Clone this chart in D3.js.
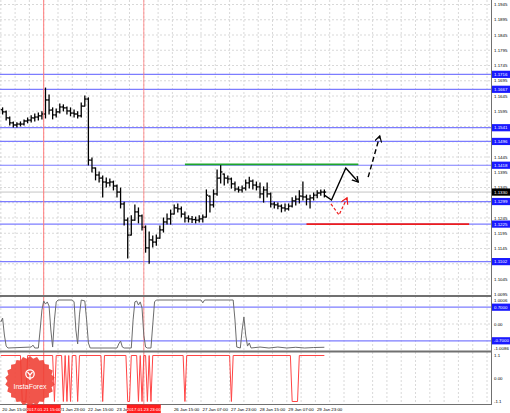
<!DOCTYPE html>
<html>
<head>
<meta charset="utf-8">
<script src="https://cdn.jsdelivr.net/npm/d3@7"></script>
<style>
html, body { margin: 0; padding: 0; background: #fff; }
svg { display: block; font-family: 'Liberation Sans', Arial, sans-serif; }
</style>
</head>
<body>
<div id="chart"></div>
<script>
/* global d3 */

// time axis, counted in trading hours from 20 Jan 15:00
// (labels under the two red date boxes are hidden in the picture)
const timeTickHours = [0, 32, 48, 64, 96, 112, 128, 144, 160, 176]
const timeTickLabels = ['20 Jan 15:00', '21 Jan 23:00', '22 Jan 15:00', '23 Jan 07:00',
    '26 Jan 15:00', '27 Jan 07:00', '27 Jan 23:00', '28 Jan 15:00', '29 Jan 07:00', '29 Jan 23:00']

const priceTicks = [1.1945, 1.1895, 1.1845, 1.1795, 1.1745, 1.1695, 1.1645, 1.1595, 1.1545, 1.1495,
    1.1445, 1.1395, 1.1345, 1.1295, 1.1245, 1.1195, 1.1145, 1.1095, 1.1045]

// 2-hour bars, bar k starts at hour 2k
const barHigh = [1.1606, 1.1596, 1.1576, 1.1560, 1.1557, 1.1560, 1.1566, 1.1573, 1.1580, 1.1586,
    1.1589, 1.1593, 1.1671, 1.1648, 1.1606, 1.1602, 1.1619, 1.1616, 1.1609, 1.1606,
    1.1599, 1.1593, 1.1622, 1.1645, 1.1639, 1.1442, 1.1409, 1.1396, 1.1383, 1.1376,
    1.1373, 1.1366, 1.1353, 1.1343, 1.1297, 1.1245, 1.1252, 1.1288, 1.1278, 1.1255,
    1.1219, 1.1199, 1.1186, 1.1189, 1.1219, 1.1245, 1.1258, 1.1271, 1.1288, 1.1291,
    1.1281, 1.1265, 1.1252, 1.1250, 1.1248, 1.1252, 1.1255, 1.1337, 1.1317, 1.1337,
    1.1402, 1.1419, 1.1389, 1.1383, 1.1376, 1.1363, 1.1347, 1.1350, 1.1370, 1.1379,
    1.1370, 1.1363, 1.1360, 1.1347, 1.1360, 1.1327, 1.1297, 1.1294, 1.1288, 1.1291,
    1.1291, 1.1311, 1.1317, 1.1334, 1.1363, 1.1320, 1.1320, 1.1327, 1.1334, 1.1337,
    1.1337]
const barLow = [1.1586, 1.1566, 1.1550, 1.1543, 1.1543, 1.1547, 1.1550, 1.1557, 1.1560, 1.1563,
    1.1566, 1.1570, 1.1573, 1.1586, 1.1570, 1.1576, 1.1589, 1.1596, 1.1586, 1.1580,
    1.1576, 1.1573, 1.1576, 1.1612, 1.1419, 1.1396, 1.1370, 1.1363, 1.1314, 1.1347,
    1.1350, 1.1337, 1.1314, 1.1278, 1.1222, 1.1114, 1.1189, 1.1238, 1.1229, 1.1206,
    1.1133, 1.1097, 1.1150, 1.1156, 1.1179, 1.1199, 1.1225, 1.1225, 1.1258, 1.1265,
    1.1248, 1.1232, 1.1232, 1.1230, 1.1229, 1.1232, 1.1232, 1.1248, 1.1265, 1.1281,
    1.1320, 1.1360, 1.1353, 1.1360, 1.1343, 1.1334, 1.1330, 1.1330, 1.1337, 1.1343,
    1.1340, 1.1337, 1.1311, 1.1297, 1.1314, 1.1281, 1.1278, 1.1275, 1.1265, 1.1268,
    1.1271, 1.1281, 1.1288, 1.1294, 1.1304, 1.1288, 1.1278, 1.1304, 1.1311, 1.1320,
    1.1314]
const barClose = [1.1593, 1.1573, 1.1557, 1.1550, 1.1553, 1.1553, 1.1563, 1.1566, 1.1573, 1.1576,
    1.1580, 1.1586, 1.1632, 1.1599, 1.1583, 1.1593, 1.1609, 1.1606, 1.1596, 1.1589,
    1.1586, 1.1580, 1.1612, 1.1635, 1.1435, 1.1409, 1.1386, 1.1376, 1.1363, 1.1360,
    1.1363, 1.1350, 1.1330, 1.1291, 1.1238, 1.1189, 1.1238, 1.1265, 1.1252, 1.1215,
    1.1147, 1.1173, 1.1166, 1.1179, 1.1206, 1.1232, 1.1242, 1.1258, 1.1278, 1.1275,
    1.1258, 1.1245, 1.1242, 1.1240, 1.1238, 1.1242, 1.1248, 1.1320, 1.1288, 1.1324,
    1.1376, 1.1396, 1.1376, 1.1373, 1.1357, 1.1340, 1.1337, 1.1343, 1.1360, 1.1366,
    1.1353, 1.1347, 1.1324, 1.1337, 1.1324, 1.1291, 1.1288, 1.1284, 1.1278, 1.1275,
    1.1284, 1.1301, 1.1307, 1.1317, 1.1314, 1.1307, 1.1311, 1.1320, 1.1327, 1.1330,
    1.1330]
const firstOpen = 1.1600
const currentPrice = 1.1330

// horizontal levels (full width)
const levelPrices = [1.1716, 1.1667, 1.1541, 1.1496, 1.1418, 1.1299, 1.1225, 1.1102]

// short levels: resistance (green) and support (red)
const segmentNames = ['resistance', 'support']
const segmentPrices = [1.1421, 1.1225]
const segmentFrom = [103, 171]
const segmentTo = [200, 262]

// vertical markers
const markerHours = [24, 80]
const markerLabels = ['2017.01.21 15:00', '2017.01.23 23:00']

// forecast paths
const forecastMainHours = [181, 185, 193, 200]
const forecastMainPrices = [1.1320, 1.1304, 1.1409, 1.1363]
const forecastNextHours = [205.5, 212]
const forecastNextPrices = [1.1379, 1.1514]
const forecastAltHours = [184.7, 189.2, 193.7]
const forecastAltPrices = [1.1291, 1.1255, 1.1311]

// oscillator 1
const osc1Hours = [0, 1, 2, 3, 4, 17, 18, 19, 21, 22, 23, 24, 25, 26, 27, 28, 29, 30, 31, 32,
    40, 41, 42, 43, 44, 45, 47, 48, 49, 50, 65, 66, 67, 68, 69, 73, 74, 75, 76, 77,
    78, 79, 80, 81, 82, 84, 85, 86, 87, 112, 113, 114, 130, 131, 132, 134, 135, 136, 137, 138,
    139, 140, 145, 150, 155, 160, 165, 170, 175, 181]
const osc1Values = [0.08, 0.25, -0.46, -0.92, -1.0, -0.96, -0.88, -1.0, -1.0, -0.25, 0.58, 0.96, 0.83, 0.92, 0.75, -0.25, -0.96, 0.17, 0.92, 1.0,
    1.0, 0.92, -0.25, -0.83, 0.38, 1.0, 0.96, 0.17, -0.79, -1.0, -1.0, -0.83, -0.71, -0.96, -1.0, -1.0, 0.17, 0.92, 0.96, 0.79,
    0.92, 0.67, -0.46, -0.96, -1.0, -1.0, -0.04, 0.92, 1.0, 1.0, 0.88, 1.0, 1.0, 0.17, -0.96, -1.0, -0.25, 0.29, -0.46, -0.92,
    -0.79, -1.0, -0.96, -1.0, -0.96, -1.0, -0.97, -1.0, -0.98, -0.97]
const osc1Levels = [0.7, -0.7]
const osc1TickValues = [1.0006, 0, -1.0086]
const osc1TickLabels = ['1.0006', '0.00', '-1.0086']
const osc1MaxLabel = '1.0095'

// oscillator 2 (signal)
const osc2Hours = [0, 11, 12, 14, 15, 29, 30, 31, 34, 35, 36, 37, 38, 39, 40, 42, 43, 44, 56, 57,
    58, 70, 71, 72, 73, 76, 77, 78, 79, 80, 81, 82, 83, 84, 85, 102, 103, 104, 128, 129,
    130, 162, 163, 166, 167, 181]
const osc2Values = [1.1, 1.1, -1.1, -1.1, 1.1, 1.1, -1.1, 1.1, 1.1, -1.1, 1.1, -1.1, 1.1, -1.1, 1.1, 1.1, -1.1, 1.1, 1.1, -1.1,
    1.1, 1.1, -1.1, -1.1, 1.1, 1.1, -1.1, 1.1, -1.1, 1.1, 1.1, -1.1, 1.1, -1.1, 1.1, 1.1, -1.1, 1.1, 1.1, -1.1,
    1.1, 1.1, -1.1, -1.1, 1.1, 1.1]
const osc2TickValues = [1.1, 0, -1.1]
const osc2TickLabels = ['1.1', '0.00', '-1.1']


let DrawChart = function (id) {
    this.id = id
    this.svgWidth = 510
    this.svgHeight = 413
    this.plotRight = 491
    this.mainBottom = 296
    this.osc1Top = 297
    this.osc1Bottom = 351.5
    this.osc2Top = 352.5
    this.osc2Bottom = 404

    this.svg = d3.select('#' + id).append('svg')
        .attr('width', this.svgWidth)
        .attr('height', this.svgHeight)

    this.x = d3.scaleLinear().domain([0, 274]).range([0.8, 490.6])
    this.y = d3.scaleLinear().domain([1.1045, 1.1945]).range([279, 4.5])
    this.yOsc1 = d3.scaleLinear().domain([-1, 1]).range([348, 300])
    this.yOsc2 = d3.scaleLinear().domain([-1.1, 1.1]).range([401.5, 355.5])

    this.colors = {
        grid: '#cfcfcf',
        level: '#7c7cff',
        levelBox: '#1a1aff',
        marker: '#ff7a7a',
        resistance: '#1fa52b',
        support: '#ee1c1c',
        bar: '#000',
        osc1: '#6c6c6c',
        osc2: '#ff4444',
        border: '#707070'
    }
    this.fontSize = 4.4
}

DrawChart.prototype.layout = function () {
    let svg = this.svg
    let x = this.x
    let y = this.y
    let c = this.colors

    let defs = svg.append('defs')
    defs.append('clipPath').attr('id', 'clipMain')
        .append('rect').attr('x', 0).attr('y', 0).attr('width', this.plotRight).attr('height', this.mainBottom)
    defs.append('clipPath').attr('id', 'clipOsc1')
        .append('rect').attr('x', 0).attr('y', this.osc1Top).attr('width', this.plotRight).attr('height', this.osc1Bottom - this.osc1Top)
    defs.append('clipPath').attr('id', 'clipOsc2')
        .append('rect').attr('x', 0).attr('y', this.osc2Top).attr('width', this.plotRight).attr('height', this.osc2Bottom - this.osc2Top)

    let addArrow = function (name, color) {
        defs.append('marker').attr('id', name)
            .attr('markerUnits', 'userSpaceOnUse')
            .attr('markerWidth', 8).attr('markerHeight', 8)
            .attr('refX', 6).attr('refY', 3.5)
            .attr('orient', 'auto')
            .append('path')
            .attr('d', 'M0,0 L6,3.5 L0,7')
            .attr('fill', 'none')
            .attr('stroke', color)
            .attr('stroke-width', 1.2)
    }
    addArrow('arrowBlack', '#000')
    addArrow('arrowRed', c.support)

    // grid
    let gridHours = d3.range(0, 275, 8)
    let grid = svg.append('g').attr('class', 'grid')
        .attr('stroke', c.grid).attr('stroke-dasharray', '2,2').attr('stroke-width', 0.8)
    grid.selectAll('line.v')
        .data(gridHours)
        .enter()
        .append('line')
        .attr('class', 'v')
        .attr('x1', (h) => x(h)).attr('x2', (h) => x(h))
        .attr('y1', 0).attr('y2', this.osc2Bottom)
    grid.selectAll('line.h')
        .data(priceTicks)
        .enter()
        .append('line')
        .attr('class', 'h')
        .attr('x1', 0).attr('x2', this.plotRight)
        .attr('y1', (p) => y(p)).attr('y2', (p) => y(p))
    grid.selectAll('line.o1')
        .data([0])
        .enter()
        .append('line')
        .attr('x1', 0).attr('x2', this.plotRight)
        .attr('y1', (v) => this.yOsc1(v)).attr('y2', (v) => this.yOsc1(v))

    // main panel
    let main = svg.append('g').attr('class', 'main').attr('clip-path', 'url(#clipMain)')

    main.append('line')
        .attr('x1', 0).attr('x2', this.plotRight)
        .attr('y1', y(currentPrice)).attr('y2', y(currentPrice))
        .attr('stroke', '#c4c4c4').attr('stroke-width', 1)

    main.append('g').attr('class', 'levels')
        .selectAll('line')
        .data(levelPrices)
        .enter()
        .append('line')
        .attr('x1', 0).attr('x2', this.plotRight)
        .attr('y1', (p) => y(p)).attr('y2', (p) => y(p))
        .attr('stroke', c.level).attr('stroke-width', 1.2)

    // vertical markers through all panels
    svg.append('g').attr('class', 'markers')
        .selectAll('line')
        .data(markerHours)
        .enter()
        .append('line')
        .attr('x1', (h) => x(h)).attr('x2', (h) => x(h))
        .attr('y1', 0).attr('y2', this.osc2Bottom)
        .attr('stroke', c.marker)
        .attr('stroke-opacity', (h, i) => i === 0 ? 1 : 0.8)
        .attr('stroke-width', 1)

    // OHLC bars
    let bars = barHigh.map((high, k) => {
        let open = k === 0 ? firstOpen : barClose[k - 1]
        open = Math.min(high, Math.max(barLow[k], open))
        return { hour: 2 * k + 1, high: high, low: barLow[k], open: open, close: barClose[k] }
    })
    let barG = main.append('g').attr('class', 'bars').attr('stroke', c.bar).attr('stroke-width', 1.3)
    let bar = barG.selectAll('g')
        .data(bars)
        .enter()
        .append('g')
    bar.append('line')
        .attr('x1', (d) => x(d.hour)).attr('x2', (d) => x(d.hour))
        .attr('y1', (d) => y(d.high) - 0.5).attr('y2', (d) => y(d.low) + 0.5)
    bar.append('line')
        .attr('x1', (d) => x(d.hour - 1)).attr('x2', (d) => x(d.hour))
        .attr('y1', (d) => y(d.open)).attr('y2', (d) => y(d.open))
    bar.append('line')
        .attr('x1', (d) => x(d.hour)).attr('x2', (d) => x(d.hour + 1))
        .attr('y1', (d) => y(d.close)).attr('y2', (d) => y(d.close))

    // support / resistance segments
    main.append('g').attr('class', 'segments')
        .selectAll('line')
        .data(segmentNames)
        .enter()
        .append('line')
        .attr('x1', (n, i) => x(segmentFrom[i])).attr('x2', (n, i) => x(segmentTo[i]))
        .attr('y1', (n, i) => y(segmentPrices[i])).attr('y2', (n, i) => y(segmentPrices[i]))
        .attr('stroke', (n) => c[n]).attr('stroke-width', 1.8)

    // forecasts
    let pathOf = (hours, prices) => d3.line()(hours.map((h, i) => [x(h), y(prices[i])]))
    main.append('path')
        .attr('d', pathOf(forecastMainHours, forecastMainPrices))
        .attr('fill', 'none').attr('stroke', '#000').attr('stroke-width', 1.4)
        .attr('marker-end', 'url(#arrowBlack)')
    main.append('path')
        .attr('d', pathOf(forecastNextHours, forecastNextPrices))
        .attr('fill', 'none').attr('stroke', '#000').attr('stroke-width', 1.4)
        .attr('stroke-dasharray', '5,3')
        .attr('marker-end', 'url(#arrowBlack)')
    main.append('path')
        .attr('d', pathOf(forecastAltHours, forecastAltPrices))
        .attr('fill', 'none').attr('stroke', c.support).attr('stroke-width', 1.2)
        .attr('stroke-dasharray', '3,2')
        .attr('marker-end', 'url(#arrowRed)')

    // oscillator 1
    let osc1 = svg.append('g').attr('class', 'osc1').attr('clip-path', 'url(#clipOsc1)')
    osc1.selectAll('line')
        .data(osc1Levels)
        .enter()
        .append('line')
        .attr('x1', 0).attr('x2', this.plotRight)
        .attr('y1', (v) => this.yOsc1(v)).attr('y2', (v) => this.yOsc1(v))
        .attr('stroke', c.level).attr('stroke-width', 1.2)
    osc1.append('path')
        .attr('d', d3.line()(osc1Hours.map((h, i) => [x(h), this.yOsc1(osc1Values[i])])))
        .attr('fill', 'none').attr('stroke', c.osc1).attr('stroke-width', 1)

    // oscillator 2
    let osc2 = svg.append('g').attr('class', 'osc2').attr('clip-path', 'url(#clipOsc2)')
    osc2.append('path')
        .attr('d', d3.line()(osc2Hours.map((h, i) => [x(h), this.yOsc2(osc2Values[i])])))
        .attr('fill', 'none').attr('stroke', c.osc2).attr('stroke-width', 1)

    // panel borders
    let borders = svg.append('g').attr('class', 'borders').attr('stroke', c.border)
    borders.selectAll('line.sep')
        .data([this.mainBottom, this.osc1Bottom])
        .enter()
        .append('line')
        .attr('x1', 0).attr('x2', this.plotRight)
        .attr('y1', (v) => v).attr('y2', (v) => v)
        .attr('stroke-width', 2)
    borders.append('line')
        .attr('x1', 0).attr('x2', this.plotRight)
        .attr('y1', this.osc2Bottom + 0.5).attr('y2', this.osc2Bottom + 0.5)
        .attr('stroke-width', 1)
    borders.append('line')
        .attr('x1', this.plotRight + 0.5).attr('x2', this.plotRight + 0.5)
        .attr('y1', 0).attr('y2', this.osc2Bottom + 1)
        .attr('stroke-width', 1)

    // label boxes on the axis
    let boxes = []
    levelPrices.forEach((p) => boxes.push({ y: y(p), text: p.toFixed(4), fill: c.levelBox }))
    boxes.push({ y: y(currentPrice), text: currentPrice.toFixed(4), fill: '#000' })
    osc1Levels.forEach((v) => boxes.push({ y: this.yOsc1(v), text: v.toFixed(4), fill: c.levelBox }))

    // right axis labels; a tick label covered by a box is not drawn (as on the terminal)
    let covered = (ty) => boxes.some((b) => Math.abs(b.y - ty) < 4.5)
    let axis = svg.append('g').attr('class', 'axis').attr('font-size', this.fontSize)
    let labelX = this.plotRight + 3
    axis.selectAll('text.p')
        .data(priceTicks.filter((p) => !covered(y(p))))
        .enter()
        .append('text')
        .attr('x', labelX)
        .attr('y', (p) => y(p) + 1.6)
        .text((p) => p.toFixed(4))
    axis.selectAll('text.o1')
        .data(osc1TickValues)
        .enter()
        .append('text')
        .attr('x', labelX)
        .attr('y', (v) => this.yOsc1(v) + 1.6)
        .text((v, i) => osc1TickLabels[i])
    axis.append('text')
        .attr('x', labelX).attr('y', this.osc1Top - 1.4)
        .text(osc1MaxLabel)
    axis.selectAll('text.o2')
        .data(osc2TickValues)
        .enter()
        .append('text')
        .attr('x', labelX)
        .attr('y', (v) => this.yOsc2(v) + 1.6)
        .text((v, i) => osc2TickLabels[i])

    let box = axis.selectAll('g.box')
        .data(boxes)
        .enter()
        .append('g')
    box.append('rect')
        .attr('x', this.plotRight + 1).attr('y', (d) => d.y - 3.6)
        .attr('width', 18).attr('height', 7.2)
        .attr('fill', (d) => d.fill)
    box.append('text')
        .attr('x', labelX).attr('y', (d) => d.y + 1.6)
        .attr('fill', '#fff')
        .text((d) => d.text)

    // time axis
    let timeAxis = svg.append('g').attr('class', 'time').attr('font-size', this.fontSize)
    timeAxis.selectAll('text')
        .data(timeTickHours)
        .enter()
        .append('text')
        .attr('x', (h) => x(h) + 1.5)
        .attr('y', 410.5)
        .text((h, i) => timeTickLabels[i])
    let mark = timeAxis.selectAll('g.mark')
        .data(markerHours)
        .enter()
        .append('g')
    mark.append('rect')
        .attr('x', (h) => x(h) - 17).attr('y', 404.5)
        .attr('width', 34).attr('height', 8.5)
        .attr('fill', '#ff1e1e')
    mark.append('text')
        .attr('x', (h) => x(h)).attr('y', 410.5)
        .attr('text-anchor', 'middle').attr('fill', '#fff')
        .text((h, i) => markerLabels[i])

    this.drawLogo(30, 381)
}

DrawChart.prototype.drawLogo = function (cx, cy) {
    let teeth = 22
    let points = d3.range(teeth * 2).map((i) => {
        let a = i * Math.PI / teeth
        let r = i % 2 === 0 ? 25 : 22.5
        return [cx + r * Math.sin(a), cy - r * Math.cos(a)]
    })
    let logo = this.svg.append('g').attr('class', 'logo')
    logo.append('polygon')
        .attr('points', points.map((p) => p.join(',')).join(' '))
        .attr('fill', '#ef3e32').attr('fill-opacity', 0.88)
    logo.append('circle')
        .attr('cx', cx).attr('cy', cy - 7).attr('r', 4.2)
        .attr('fill', 'none').attr('stroke', '#fff').attr('stroke-width', 1.3)
    logo.append('path')
        .attr('d', 'M' + (cx - 2.5) + ',' + (cy - 9) + ' L' + cx + ',' + (cy - 6) + ' L' + (cx + 2.5) + ',' + (cy - 9)
            + ' M' + cx + ',' + (cy - 6) + ' L' + cx + ',' + (cy - 1))
        .attr('fill', 'none').attr('stroke', '#fff').attr('stroke-width', 1.2)
    logo.append('text')
        .attr('x', cx).attr('y', cy + 8)
        .attr('text-anchor', 'middle')
        .attr('font-size', 7)
        .attr('fill', '#fff')
        .text('InstaForex')
}

new DrawChart('chart').layout()
</script>
</body>
</html>
